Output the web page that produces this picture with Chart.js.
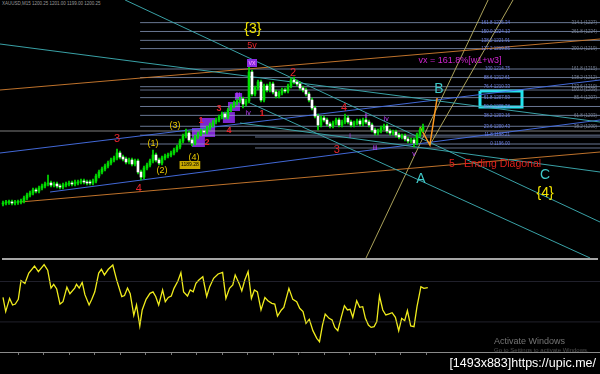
<!DOCTYPE html>
<html lang="en">
<head>
<meta charset="UTF-8">
<title>Gold M15 - Elliott wave count</title>
<script src="https://cdn.jsdelivr.net/npm/chart.js@4"></script>
<style>
  html, body { margin: 0; padding: 0; background: #000; }
  body { width: 600px; height: 374px; position: relative; overflow: hidden; font-family: Arial, "Liberation Sans", sans-serif; }
  #mainBox { position: absolute; left: 0; top: 0; width: 600px; height: 258px; }
  #oscBox { position: absolute; left: 0; top: 258px; width: 600px; height: 116px; }
  .sep { position: absolute; left: 2px; top: 258px; width: 596px; height: 2px; background: #a5a5a5; }
  .hdr { position: absolute; left: 2px; top: 1px; font-size: 4.5px; color: #9a9a9a; white-space: nowrap; }
  .act1 { position: absolute; left: 494px; top: 336px; font-size: 9px; color: rgba(190,190,190,0.6); }
  .act2 { position: absolute; left: 494px; top: 347px; font-size: 6px; color: rgba(150,150,150,0.5); }
  .upic { position: absolute; right: 4px; top: 356px; font-size: 12.5px; color: #fff; white-space: nowrap; }
</style>
</head>
<body>
<div class="hdr">XAUUSD,M15 1200.25 1201.00 1199.00 1200.25</div>
<div id="mainBox"><canvas id="mainChart"></canvas></div>
<div id="oscBox"><canvas id="oscChart"></canvas></div>
<div class="sep"></div>
<div class="act1">Activate Windows</div>
<div class="act2">Go to Settings to activate Windows.</div>
<div class="upic">[1493x883]https://upic.me/</div>

<script>
// candles, one per bar (bar 1 .. 141)
const open = [
  1181,1181.25,1181.4,1181.5,1181.25,1181.4,1181.5,1181.75,1182.5,1183.25,
  1183.75,1184.5,1184.25,1185,1185.5,1186,1186.25,1185.75,1186,1185.5,
  1185.25,1185.75,1186,1186.25,1186,1186.25,1186.5,1186.75,1186.5,1186.5,
  1186.25,1186.75,1188,1189,1189.75,1190.5,1191.25,1192,1192.5,1193.75,
  1192.75,1192.25,1191.5,1192,1191,1191.75,1189,1187.75,1190,1190.75,
  1191.75,1193.25,1192,1191.25,1192.5,1193,1193.25,1193.75,1194.5,1195.25,
  1196.75,1198,1198.75,1197,1196.25,1197.75,1198.5,1199.25,1199,1200,
  1200.75,1201.5,1202,1202.75,1203.5,1202.75,1204.5,1205.5,1206.25,1206.75,
  1207.25,1206,1206.75,1214,1208.5,1210,1211.5,1207,1210.5,1209.5,
  1211,1209,1208,1208.75,1209.5,1209.25,1210.5,1212,1211.5,1211,
  1210,1209.5,1208.5,1207,1205,1203,1200.75,1202.5,1202,1201,
  1200.5,1201.25,1202,1200.75,1201.5,1202.5,1201.5,1200.75,1201.25,1201.75,
  1201,1202,1201.5,1200.75,1199.5,1198.75,1199.25,1200,1200.5,1199.25,
  1198.75,1199,1198.25,1197.75,1198,1197.25,1196.75,1197,1196.25,1198.25,
  1199.5
];
const high = [
  1181.75,1181.9,1182,1182,1181.9,1182,1182.25,1183,1183.75,1184.25,
  1185,1185,1185.5,1186,1186.5,1188.25,1186.75,1186.5,1186.5,1186,
  1186.25,1186.5,1186.75,1186.75,1187,1187,1187.25,1187.25,1187,1187,
  1187.25,1188.5,1189.5,1190.25,1191,1191.75,1192.5,1193,1194.75,1194.25,
  1193.25,1192.75,1192.5,1192.5,1192.25,1192.25,1189.5,1190.5,1191.25,1192.25,
  1194.5,1193.75,1192.5,1193,1193.5,1193.75,1194.25,1195,1195.75,1197.25,
  1198.5,1199.75,1199.25,1197.5,1198.25,1199,1199.75,1199.75,1200.5,1201.25,
  1202,1202.5,1203.25,1204,1204,1205,1206,1206.75,1207.25,1207.75,
  1207.75,1207.25,1215.25,1214.5,1210.5,1212,1212,1211,1211,1211.5,
  1211.5,1209.5,1209.25,1210,1210,1211,1212.5,1212.75,1212,1211.5,
  1210.5,1210,1209,1207.5,1205.5,1203.5,1203,1203,1202.5,1201.5,
  1201.75,1202.5,1202.5,1202,1203.5,1203,1202,1201.75,1202.25,1202.25,
  1202.5,1202.5,1202,1201.25,1200,1199.75,1200.5,1201,1201,1199.75,
  1199.5,1199.5,1198.75,1198.5,1198.5,1197.75,1197.5,1197.5,1198.75,1200,
  1201
];
const low = [
  1180.5,1180.75,1180.9,1180.75,1180.75,1180.9,1181,1181.25,1182,1182.75,
  1183.25,1183.75,1183.75,1184.5,1185,1185.5,1185.25,1185.25,1185,1184.75,
  1184.75,1185.25,1185.5,1185.5,1185.5,1185.75,1186,1186,1185.75,1185.75,
  1185.75,1186.25,1187.5,1188.5,1189.25,1190,1190.75,1191.5,1192,1192.25,
  1191.75,1191,1191,1190.5,1190.5,1188.5,1187,1187.25,1189.5,1190.25,
  1191.25,1191.5,1190.75,1190.75,1192,1192.5,1192.75,1193.25,1194,1194.75,
  1196.25,1197.5,1196.5,1195.5,1195.75,1197.25,1198,1198.5,1198.5,1199.5,
  1200.25,1201,1201.5,1202.25,1202.25,1202.25,1204,1205,1205.75,1206.25,
  1205,1205.5,1206.25,1208,1208,1209.5,1206.5,1206.5,1209,1209,
  1208.5,1207.5,1207.5,1208.25,1208.75,1208.75,1210,1211,1210.5,1209.5,
  1209,1208,1206.5,1204.5,1202.5,1199.5,1200.25,1201.5,1200.5,1200,
  1200,1200.75,1200.25,1200.25,1201,1201,1200.25,1200.25,1200.75,1200.5,
  1200.5,1201,1200.25,1199,1198.25,1198.25,1198.75,1199.5,1198.75,1198.25,
  1198.25,1197.75,1197.25,1197.25,1196.75,1196.25,1196.25,1195.25,1195.75,1197.75,
  1199
];
const close = [
  1181.25,1181.4,1181.5,1181.25,1181.4,1181.5,1181.75,1182.5,1183.25,1183.75,
  1184.5,1184.25,1185,1185.5,1186,1186.25,1185.75,1186,1185.5,1185.25,
  1185.75,1186,1186.25,1186,1186.5,1186.5,1186.75,1186.5,1186.25,1186.25,
  1186.75,1188,1189,1189.75,1190.5,1191.25,1192,1192.5,1193.75,1192.75,
  1192.25,1191.5,1192,1191,1191.75,1189,1187.75,1190,1190.75,1191.75,
  1193.25,1192,1191.25,1192.5,1193,1193.25,1193.75,1194.5,1195.25,1196.75,
  1198,1198.75,1197,1196.25,1197.75,1198.5,1199.25,1199,1200,1200.75,
  1201.5,1202,1202.75,1203.5,1202.75,1204.5,1205.5,1206.25,1206.75,1207.25,
  1206,1206.75,1214,1208.5,1210,1211.5,1207,1210.5,1209.5,1211,
  1209,1208,1208.75,1209.5,1209.25,1210.5,1212,1211.5,1211,1210,
  1209.5,1208.5,1207,1205,1203,1200.75,1202.5,1202,1201,1200.5,
  1201.25,1202,1200.75,1201.5,1202.5,1201.5,1200.75,1201.25,1201.75,1201,
  1202,1201.5,1200.75,1199.5,1198.75,1199.25,1200,1200.5,1199.25,1198.75,
  1199,1198.25,1197.75,1198,1197.25,1196.75,1197,1196.25,1198.25,1199.5,
  1200.25
];

// oscillator (RSI) in the lower window
const oscX = [
  1.0,1.9,3.2,4.2,5.1,6.1,7.0,8.3,9.6,11.5,12.8,14.7,15.9,17.0,17.9,18.9,20.0,21.0,22.3,23.3,
  24.9,25.5,26.4,27.4,28.3,29.7,30.6,31.6,32.9,33.8,34.8,36.1,37.6,38.9,40.6,41.5,42.5,43.4,44.6,45.5,
  46.6,47.4,48.7,50.0,51.0,51.9,52.9,54.2,55.1,56.1,57.1,58.0,59.3,60.3,61.2,62.5,63.4,64.4,65.3,66.3,
  67.6,68.9,69.9,71.2,72.7,74.2,75.3,76.5,77.6,78.4,79.7,80.6,81.6,82.7,83.8,84.8,85.8,87.0,88.3,89.3,
  90.6,91.6,92.5,93.8,94.6,96.3,97.6,98.9,99.9,101.0,102.0,103.1,104.3,105.6,106.5,107.5,108.4,109.7,110.7,111.6,
  112.6,113.8,114.8,115.8,116.7,117.6,118.9,119.9,120.9,121.8,122.8,123.7,124.7,125.6,126.5,127.6,128.6,129.5,130.7,131.8,
  132.9,133.9,134.9,135.8,136.9,138.0,139.0,140.3,141.3,142.6
];
const oscVal = [
  58,43,57,50,51,56,76,73,84,91.5,85.5,93,87,68,72,67,51,53.5,69,62,
  68,72,68,74,61,50,56,64,84,88,82,88,92.5,76.5,59,60,68,62,39,50,
  27.7,44.7,56,62.4,64,59,50,66,53.5,58,59.6,67.7,75.5,84.4,64,59.6,66,64,73,76.6,
  80,59,69.5,78.4,83,84.7,57,67.7,71.3,82,73,65,76.6,85.5,57,66,64,44.7,58,54.6,
  51.8,51,38.3,44.7,47.5,67.7,56,53.5,46.5,43,30.5,34.8,22.7,14.5,11,28.7,40.4,35.8,34,26.2,
  22.7,37.6,49.3,44.7,45.4,36.9,54.6,47.5,48.2,35.8,28.7,26.2,27,32.3,59.6,44.7,39.4,40.4,41.8,36.9,
  22.7,35.8,33.3,44,27.7,27,48.2,69.5,67.7,68.4
];
const oscLevels = [75, 32];
const timeTicks = [6.1,14.6,23.1,31.6,40.1,48.6,57.1,65.6,74.1,82.6,91.1,99.6,108.1,116.6,125.1,133.6,142.1];

// fibonacci levels of the last swing (price) and their texts
const fibPrice = [1196, 1198.21, 1200.43, 1203.16, 1205.38, 1207.59, 1210.33, 1212.61, 1214.75, 1219.85, 1221.91, 1224.13, 1226.34];
const fibText = ['0 1196.00','11.8 1198.21','23.6 1200.43','38.2 1203.16','50.0 1205.38','61.8 1207.59',
  '76.4 1210.33','88.6 1212.61','100 1214.75','127.2 1219.85','138.2 1221.91','150.0 1224.13','161.8 1226.34'];
const extPrice = [1226.34, 1224.13, 1219.85, 1214.75, 1212.61, 1210.33, 1209.5, 1207.59, 1203.16, 1200.43];
const extText = ['314.1 (1227)','261.8 (1224)','200.0 (1219)','161.8 (1215)','138.2 (1212)','123.6 (1210)',
  '100.0 (1209)','85.4 (1207)','61.8 (1203)','38.2 (1200)'];
const otherLevels = [1209.5, 1199.25, 1197.75, 1195];
const otherFrom = [46.7, 0, 85, 85];

// trend lines: [bar1, price1, bar2, price2]
const tealLines = [[41.7,1232,200,1176.5],[83.3,1206.25,196.7,1167.5],[0,1221,200,1201.5],[80,1201.25,200,1189]];
const blueLines = [[0,1193.75,200,1212],[16.7,1184,200,1202]];
const orangeLines = [[0,1209.5,200,1222.25],[6.7,1181.5,200,1194]];
const fanLines = [[162.7,1232,122,1167.5],[143.3,1195.75,171,1232]];
const arrowPath = [[140,1200.25],[143.3,1195.75],[145.7,1207.5]];
// boxes: [bar1, price1, bar2, price2]
const waveBoxes = [[64,1200,68.3,1195.25],[66.7,1202.5,71.7,1197.75],[74.3,1204,78.3,1201.25],[76,1206.5,80,1204.25],[78.3,1208.75,80.7,1207]];
const targetBox = [160,1209.25,174,1205.25];

// wave labels: [text, bar, price]
const redBig = [['2',97.7,1213.75],['3',39,1197.25],['4',46.3,1184.75],['4',114.7,1205],['3',112.3,1194.5]];
const redSmall = [['1',87.3,1203.5],['3',73,1204.75],['1',67,1201.75],['4',76.3,1199.25],['2',69,1196.25]];
const redTop = [['5v',84,1220.5]];
const yellowWaves = [['(3)',58.3,1200.5],['(1)',51,1196],['(2)',54,1189.25],['(4)',64.7,1192.5]];
const bigYellow = [['{3}',84.3,1224.75],['{4}',181.7,1183.75]];
const purpleWaves = [['iii',79.3,1208.25],['iv',82.7,1203.75],['ii',122,1203],['iv',128.7,1202.25],['i',116.7,1198],['iii',125,1195],['v',138,1193.5]];
const abcLabels = [['B',146.3,1209.75],['A',140.3,1187.25],['C',181.7,1188.25]];
const notes = [['vx = 161.8%[w1+w3]',153.3,1216.75],['5 - Ending Diagonal',165,1191]];
const tagVx = ['vx',84,1216.25];
const tagPrice = ['1189.28',63.3,1190.75];

function seg(x1, p1, x2, p2, color, width, order) {
  return { type: 'line', data: [{x: x1, y: p1}, {x: x2, y: p2}], borderColor: color,
    borderWidth: width || 1, pointRadius: 0, fill: false, tension: 0, order: order || 5 };
}
function rect(b, color, fillCol, width) {
  return { type: 'line', data: [{x:b[0],y:b[1]},{x:b[2],y:b[1]},{x:b[2],y:b[3]},{x:b[0],y:b[3]},{x:b[0],y:b[1]}],
    borderColor: color, borderWidth: width, backgroundColor: fillCol || 'transparent',
    fill: fillCol ? 'shape' : false, pointRadius: 0, tension: 0, order: 8 };
}

const datasets = [];
waveBoxes.forEach(b => datasets.push(rect(b, 'rgba(140,40,230,0.9)', 'rgba(140,40,230,0.9)', 0)));
fibPrice.forEach(p => datasets.push(seg(46.7, p, 200, p, 'rgba(150,170,210,0.7)', 1, 6)));
otherLevels.forEach((p, i) => datasets.push(seg(otherFrom[i], p, 200, p, i === 1 ? 'rgba(170,170,170,0.75)' : 'rgba(150,170,210,0.65)', 1, 6)));
tealLines.forEach(l => datasets.push(seg(l[0], l[1], l[2], l[3], 'rgba(60,170,175,0.95)')));
blueLines.forEach(l => datasets.push(seg(l[0], l[1], l[2], l[3], 'rgba(70,110,225,0.95)')));
orangeLines.forEach(l => datasets.push(seg(l[0], l[1], l[2], l[3], 'rgba(200,120,45,0.95)')));
fanLines.forEach(l => datasets.push(seg(l[0], l[1], l[2], l[3], 'rgba(190,180,100,0.9)')));
datasets.push({ type: 'line', data: arrowPath.map(p => ({x: p[0], y: p[1]})), borderColor: '#ff9a20',
  borderWidth: 1.5, pointRadius: 0, tension: 0, fill: false, order: 4 });
datasets.push(rect(targetBox, '#22e5f0', null, 3));

datasets.push({ type: 'bar', grouped: false, order: 2, barThickness: 1, backgroundColor: '#00e000', borderWidth: 0,
  data: close.map((c, i) => ({x: i + 1, y: [low[i], high[i]]})) });
datasets.push({ type: 'bar', grouped: false, order: 1, barThickness: 2, minBarLength: 1, borderWidth: 0,
  backgroundColor: close.map((c, i) => c >= open[i] ? '#00e000' : '#ffffff'),
  data: close.map((c, i) => ({x: i + 1, y: [open[i], c]})) });

const textPlugin = {
  id: 'waveText',
  afterDatasetsDraw(chart) {
    const ctx = chart.ctx, x = chart.scales.x, y = chart.scales.y;
    ctx.save();
    ctx.textAlign = 'center';
    ctx.textBaseline = 'middle';
    function put(list, color, font) {
      ctx.fillStyle = color;
      ctx.font = font;
      list.forEach(t => ctx.fillText(t[0], x.getPixelForValue(t[1]), y.getPixelForValue(t[2])));
    }
    function tag(t, bg, fg, font) {
      ctx.font = font;
      const w = ctx.measureText(t[0]).width + 3;
      const px = x.getPixelForValue(t[1]), py = y.getPixelForValue(t[2]);
      ctx.fillStyle = bg;
      ctx.fillRect(px - w / 2, py - 4, w, 8);
      ctx.fillStyle = fg;
      ctx.fillText(t[0], px, py);
    }
    // fib texts
    ctx.textAlign = 'right';
    ctx.fillStyle = 'rgba(110,130,235,0.95)';
    ctx.font = '4.5px Arial';
    fibPrice.forEach((p, i) => ctx.fillText(fibText[i], x.getPixelForValue(170), y.getPixelForValue(p)));
    ctx.fillStyle = 'rgba(130,140,160,0.9)';
    extPrice.forEach((p, i) => ctx.fillText(extText[i], x.getPixelForValue(199), y.getPixelForValue(p)));
    ctx.textAlign = 'center';
    put(redBig, '#e8242c', '11px Arial');
    put(redSmall, '#e8242c', 'bold 9px Arial');
    put(redTop, '#e8242c', '9px Arial');
    put(yellowWaves, '#e8c800', '9px Arial');
    put(bigYellow, '#f2e400', '14px Arial');
    put(purpleWaves, '#c040ff', '7px Arial');
    put(abcLabels, '#40c8c8', '14px Arial');
    put([notes[0]], '#d024d0', '9px Arial');
    put([notes[1]], '#e0201c', '10.5px Arial');
    tag(tagVx, '#8a2be2', '#ff9cff', '7px Arial');
    tag(tagPrice, '#c8a800', '#000', '5px Arial');
    ctx.restore();
  }
};

new Chart(document.getElementById('mainChart'), {
  type: 'line',
  data: { datasets: datasets },
  options: {
    responsive: true, maintainAspectRatio: false, animation: false, events: [],
    layout: { padding: 0 },
    plugins: { legend: { display: false }, tooltip: { enabled: false } },
    scales: {
      x: { type: 'linear', min: 0, max: 200, offset: false, display: false },
      y: { type: 'linear', min: 1167.5, max: 1232, display: false }
    }
  },
  plugins: [textPlugin]
});

const oscSets = oscLevels.map(v => ({ type: 'line', data: [{x: 0, y: v}, {x: 200, y: v}],
  borderColor: 'rgba(70,70,95,0.45)', borderWidth: 1, pointRadius: 0 }));
oscSets.push({ type: 'line', data: oscX.map((v, i) => ({x: v, y: oscVal[i]})), borderColor: '#f0ec1c',
  borderWidth: 1.3, pointRadius: 0, tension: 0, fill: false });

new Chart(document.getElementById('oscChart'), {
  type: 'line',
  data: { datasets: oscSets },
  options: {
    responsive: true, maintainAspectRatio: false, animation: false, events: [],
    layout: { padding: { left: 0, right: 0, top: 0, bottom: 19 } },
    plugins: { legend: { display: false }, tooltip: { enabled: false } },
    scales: {
      x: {
        type: 'linear', min: 0, max: 200, offset: false,
        afterBuildTicks: s => { s.ticks = timeTicks.map(v => ({ value: v })); },
        ticks: { display: false },
        grid: { display: true, drawOnChartArea: false, drawTicks: true, tickLength: 3, color: '#777' },
        border: { display: true, color: '#8a8a8a', width: 1 }
      },
      y: { type: 'linear', min: 0, max: 100, display: false }
    }
  }
});
</script>
</body>
</html>
